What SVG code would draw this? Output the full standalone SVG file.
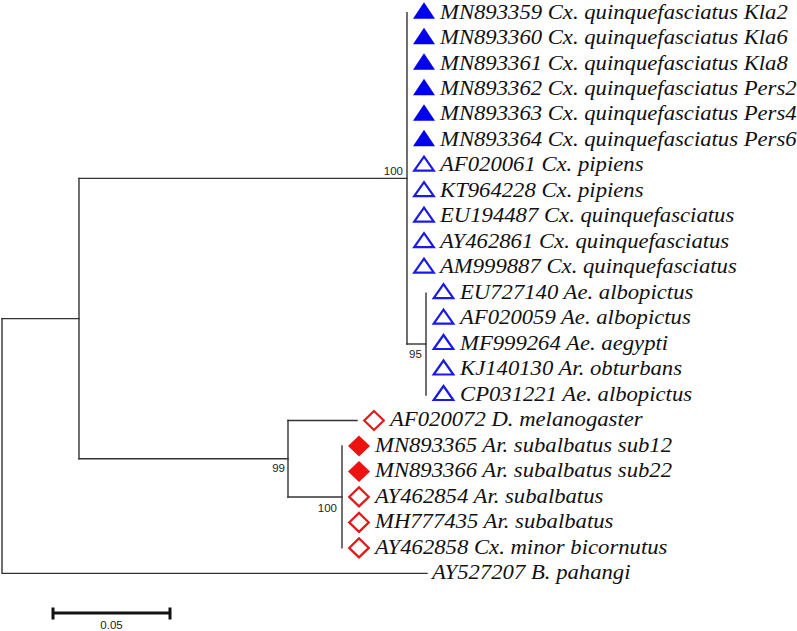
<svg xmlns="http://www.w3.org/2000/svg" xmlns:xlink="http://www.w3.org/1999/xlink" width="797" height="631" viewBox="0 0 797 631">
<style>
.lab{font-family:"Liberation Serif","Times New Roman",serif;font-style:italic;font-size:20px;fill:#111}
.bs{font-family:"Liberation Sans",Arial,sans-serif;font-size:11.5px;fill:#222}
.br{stroke:#333333;stroke-width:1.4;fill:none;stroke-linecap:square}
</style>
<defs>
<path id="triF" d="M0,-10.5 L11,6 L-11,6 Z" fill="#0000ee"/>
<path id="triO" d="M0,-9 L9.8,5 L-9.8,5 Z" fill="none" stroke="#1a1ae6" stroke-width="2.2"/>
<path id="diaF" d="M0,-10.5 L11,0 L0,10.5 L-11,0 Z" fill="#ee1111"/>
<path id="diaO" d="M0,-9.5 L9.8,0 L0,9.5 L-9.8,0 Z" fill="none" stroke="#e31a1c" stroke-width="2.2"/>
</defs>
<rect width="797" height="631" fill="#ffffff"/>
<g id="connectors" class="br">
<path d="M2,318.6 V573.4 H427"/>
<path d="M2,318.6 H79"/>
<path d="M79,178.4 V458.7"/>
<path d="M79,178.4 H407"/>
<path d="M407,12.8 V344"/>
<path d="M407,344 H426"/>
<path d="M426,293.1 V395"/>
<path d="M79,458.7 H288"/>
<path d="M288,420.5 V497"/>
<path d="M288,420.5 H357"/>
<path d="M288,497 H342"/>
<path d="M342,446 V547.9"/>
</g>
<g id="bootstrap">
<text class="bs" x="403" y="175" text-anchor="end">100</text>
<text class="bs" x="409" y="358">95</text>
<text class="bs" x="285" y="472" text-anchor="end">99</text>
<text class="bs" x="337" y="512" text-anchor="end">100</text>
</g>
<g id="t0"><use href="#triF" x="424" y="12.8"/><text class="lab" transform="translate(440 18.5) scale(1.135 1)">MN893359 Cx. quinquefasciatus Kla2</text></g>
<g id="t1"><use href="#triF" x="424" y="38.3"/><text class="lab" transform="translate(440 44) scale(1.135 1)">MN893360 Cx. quinquefasciatus Kla6</text></g>
<g id="t2"><use href="#triF" x="424" y="63.8"/><text class="lab" transform="translate(440 69.5) scale(1.135 1)">MN893361 Cx. quinquefasciatus Kla8</text></g>
<g id="t3"><use href="#triF" x="424" y="89.2"/><text class="lab" transform="translate(440 94.9) scale(1.135 1)">MN893362 Cx. quinquefasciatus Pers2</text></g>
<g id="t4"><use href="#triF" x="424" y="114.7"/><text class="lab" transform="translate(440 120.4) scale(1.135 1)">MN893363 Cx. quinquefasciatus Pers4</text></g>
<g id="t5"><use href="#triF" x="424" y="140.2"/><text class="lab" transform="translate(440 145.9) scale(1.135 1)">MN893364 Cx. quinquefasciatus Pers6</text></g>
<g id="t6"><use href="#triO" x="424" y="165.7"/><text class="lab" transform="translate(440 171.4) scale(1.135 1)">AF020061 Cx. pipiens</text></g>
<g id="t7"><use href="#triO" x="424" y="191.2"/><text class="lab" transform="translate(440 196.9) scale(1.135 1)">KT964228 Cx. pipiens</text></g>
<g id="t8"><use href="#triO" x="424" y="216.6"/><text class="lab" transform="translate(440 222.3) scale(1.135 1)">EU194487 Cx. quinquefasciatus</text></g>
<g id="t9"><use href="#triO" x="424" y="242.1"/><text class="lab" transform="translate(440 247.8) scale(1.135 1)">AY462861 Cx. quinquefasciatus</text></g>
<g id="t10"><use href="#triO" x="424" y="267.6"/><text class="lab" transform="translate(440 273.3) scale(1.135 1)">AM999887 Cx. quinquefasciatus</text></g>
<g id="t11"><use href="#triO" x="443.5" y="293.1"/><text class="lab" transform="translate(460 298.8) scale(1.135 1)">EU727140 Ae. albopictus</text></g>
<g id="t12"><use href="#triO" x="443.5" y="318.6"/><text class="lab" transform="translate(460 324.3) scale(1.135 1)">AF020059 Ae. albopictus</text></g>
<g id="t13"><use href="#triO" x="443.5" y="344"/><text class="lab" transform="translate(460 349.7) scale(1.135 1)">MF999264 Ae. aegypti</text></g>
<g id="t14"><use href="#triO" x="443.5" y="369.5"/><text class="lab" transform="translate(460 375.2) scale(1.135 1)">KJ140130 Ar. obturbans</text></g>
<g id="t15"><use href="#triO" x="443.5" y="395"/><text class="lab" transform="translate(460 400.7) scale(1.135 1)">CP031221 Ae. albopictus</text></g>
<g id="t16"><use href="#diaO" x="374" y="420.5"/><text class="lab" transform="translate(390 426.2) scale(1.135 1)">AF020072 D. melanogaster</text></g>
<g id="t17"><use href="#diaF" x="359" y="446"/><text class="lab" transform="translate(375 451.7) scale(1.135 1)">MN893365 Ar. subalbatus sub12</text></g>
<g id="t18"><use href="#diaF" x="359" y="471.4"/><text class="lab" transform="translate(375 477.1) scale(1.135 1)">MN893366 Ar. subalbatus sub22</text></g>
<g id="t19"><use href="#diaO" x="359" y="496.9"/><text class="lab" transform="translate(375 502.6) scale(1.135 1)">AY462854 Ar. subalbatus</text></g>
<g id="t20"><use href="#diaO" x="359" y="522.4"/><text class="lab" transform="translate(375 528.1) scale(1.135 1)">MH777435 Ar. subalbatus</text></g>
<g id="t21"><use href="#diaO" x="359" y="547.9"/><text class="lab" transform="translate(375 553.6) scale(1.135 1)">AY462858 Cx. minor bicornutus</text></g>
<g id="t22"><text class="lab" transform="translate(432 579.1) scale(1.135 1)">AY527207 B. pahangi</text></g>
<g id="scalebar">
<path d="M53,613 H170 M53,607.5 V619.5 M170,607.5 V619.5" stroke="#111" stroke-width="3" fill="none"/>
<text class="bs" x="111.5" y="629" text-anchor="middle" font-size="12">0.05</text>
</g>
</svg>
